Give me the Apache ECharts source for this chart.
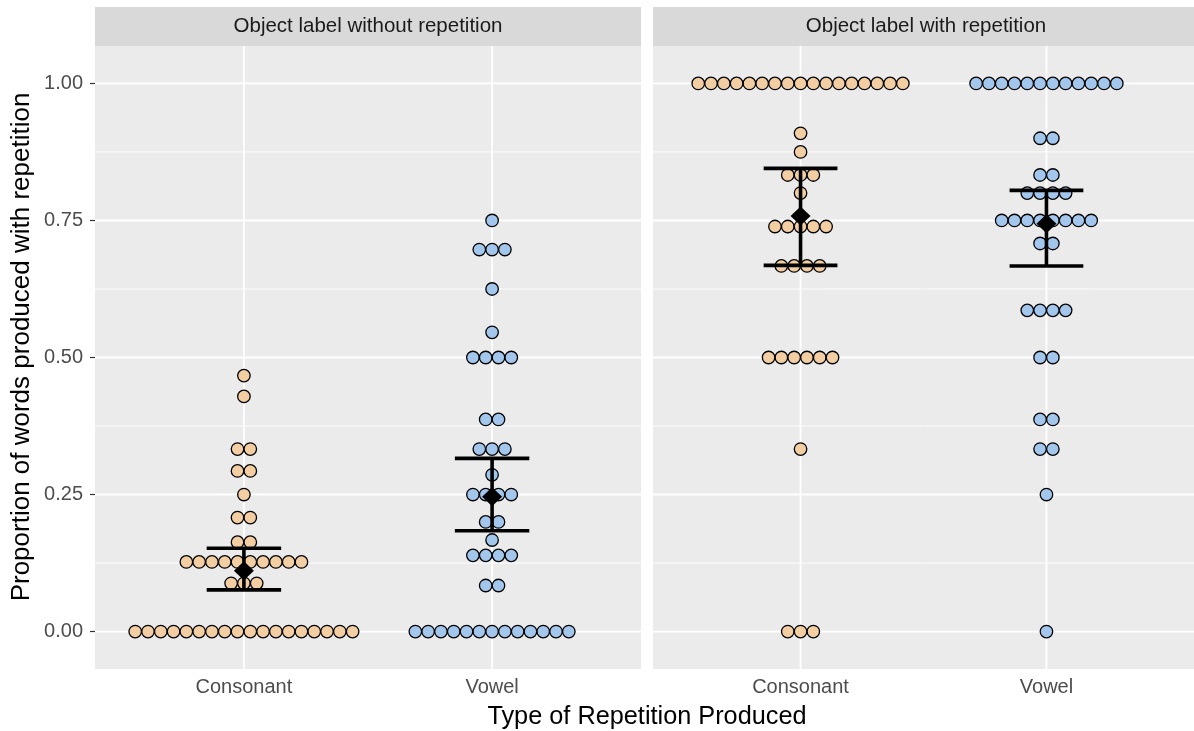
<!DOCTYPE html>
<html>
<head>
<meta charset="utf-8">
<title>Proportion of words produced with repetition</title>
<script src="https://cdn.jsdelivr.net/npm/echarts@6/dist/echarts.min.js"></script>
<style>
  html, body { margin: 0; padding: 0; background: #ffffff; }
  #main { width: 1194px; height: 731px; }
</style>
</head>
<body>
<div id="main"></div>
<script>
// Categories on the x axis and the facet headings
const categories = ['Consonant', 'Vowel'];
const panelTitles = ['Object label without repetition', 'Object label with repetition'];
const yTicks = [0, 0.25, 0.5, 0.75, 1];
const yMinorTicks = [0.125, 0.375, 0.625, 0.875];
const xTicks = [1, 2];

// Per-child proportions, object label without repetition
const noRepConsonant = [
  0, 0, 0, 0, 0, 0, 0, 0, 0, 0, 0, 0, 0, 0, 0, 0, 0, 0,
  0.088, 0.088, 0.088,
  0.127, 0.127, 0.127, 0.127, 0.127, 0.127, 0.127, 0.127, 0.127, 0.127,
  0.163, 0.163, 0.208, 0.208, 0.25, 0.293, 0.293, 0.333, 0.333, 0.429, 0.467
];
const noRepVowel = [
  0, 0, 0, 0, 0, 0, 0, 0, 0, 0, 0, 0, 0,
  0.084, 0.084, 0.139, 0.139, 0.139, 0.139, 0.167, 0.2, 0.2,
  0.25, 0.25, 0.25, 0.25, 0.286, 0.333, 0.333, 0.333, 0.387, 0.387,
  0.5, 0.5, 0.5, 0.5, 0.546, 0.625, 0.697, 0.697, 0.697, 0.75
];

// Per-child proportions, object label with repetition
const repConsonant = [
  0, 0, 0, 0.333, 0.5, 0.5, 0.5, 0.5, 0.5, 0.5,
  0.667, 0.667, 0.667, 0.667, 0.739, 0.739, 0.739, 0.739, 0.739,
  0.8, 0.833, 0.833, 0.833, 0.875, 0.909,
  1, 1, 1, 1, 1, 1, 1, 1, 1, 1, 1, 1, 1, 1, 1, 1, 1
];
const repVowel = [
  0, 0.25, 0.333, 0.333, 0.387, 0.387, 0.5, 0.5,
  0.586, 0.586, 0.586, 0.586, 0.708, 0.708,
  0.75, 0.75, 0.75, 0.75, 0.75, 0.75, 0.75, 0.75,
  0.8, 0.8, 0.8, 0.8, 0.833, 0.833, 0.9, 0.9,
  1, 1, 1, 1, 1, 1, 1, 1, 1, 1, 1, 1
];

// Group means with their confidence intervals (Consonant, Vowel)
const noRepMean = [0.111, 0.246];
const noRepLow = [0.076, 0.184];
const noRepHigh = [0.152, 0.316];
const repMean = [0.758, 0.744];
const repLow = [0.668, 0.667];
const repHigh = [0.845, 0.805];

const FONT = '"Liberation Sans", Arial, Helvetica, sans-serif';
const dotColors = ['#F2CEA2', '#A3C6ED'];
const DOT_DIAMETER = 0.7 / 30;   // dot size in y units (binwidth * dotsize)
const ERRBAR_WIDTH = 0.3;        // cap width in x units
const Y_MIN = -0.068333;
const Y_MAX = 1.068333;

const panels = [
  { title: panelTitles[0], groups: [noRepConsonant, noRepVowel], mean: noRepMean, lo: noRepLow, hi: noRepHigh },
  { title: panelTitles[1], groups: [repConsonant, repVowel], mean: repMean, lo: repLow, hi: repHigh }
];
const gridBoxes = [
  { left: 95, top: 46, width: 546, height: 623 },
  { left: 653, top: 46, width: 546, height: 623 }
];

// Stack equal values side by side, centred on the category
function dotItems(groups) {
  const items = [];
  groups.forEach((vals, gi) => {
    const counts = new Map();
    vals.forEach(v => counts.set(v, (counts.get(v) || 0) + 1));
    counts.forEach((n, v) => {
      for (let k = 0; k < n; k++) items.push([gi + 1, v, k, n, gi]);
    });
  });
  return items;
}

function gridLineSeries(i, values, dir, width) {
  return {
    type: 'custom', xAxisIndex: i, yAxisIndex: i, silent: true, z: 1,
    data: values.map(v => [v, v]),
    renderItem: (params, api) => {
      const cs = params.coordSys;
      const v = api.value(0);
      if (dir === 'h') {
        const y = api.coord([1, v])[1];
        return { type: 'line', shape: { x1: cs.x, y1: y, x2: cs.x + cs.width, y2: y },
                 style: { stroke: '#FFFFFF', lineWidth: width } };
      }
      const x = api.coord([v, 0.5])[0];
      return { type: 'line', shape: { x1: x, y1: cs.y, x2: x, y2: cs.y + cs.height },
               style: { stroke: '#FFFFFF', lineWidth: width } };
    }
  };
}

const grid = [], xAxis = [], yAxis = [], series = [], graphic = [];

panels.forEach((p, i) => {
  const g = gridBoxes[i];
  grid.push(Object.assign({ show: true, backgroundColor: '#EBEBEB', borderWidth: 0 }, g));

  xAxis.push({
    type: 'value', gridIndex: i, min: 0.4, max: 2.6,
    axisLine: { show: false },
    axisTick: { show: true, length: 5, customValues: xTicks, lineStyle: { color: '#333333', width: 1.2 } },
    axisLabel: { show: true, customValues: xTicks, formatter: v => categories[Math.round(v) - 1],
                 color: '#4D4D4D', fontSize: 20, fontFamily: FONT, margin: 8 },
    splitLine: { show: false }
  });

  yAxis.push({
    type: 'value', gridIndex: i, min: Y_MIN, max: Y_MAX,
    axisLine: { show: false },
    axisTick: { show: i === 0, length: 5, customValues: yTicks, lineStyle: { color: '#333333', width: 1.2 } },
    axisLabel: { show: i === 0, customValues: yTicks, formatter: v => v.toFixed(2),
                 color: '#4D4D4D', fontSize: 20, fontFamily: FONT, margin: 12 },
    splitLine: { show: false }
  });

  series.push(gridLineSeries(i, yMinorTicks, 'h', 0.9));
  series.push(gridLineSeries(i, yTicks, 'h', 1.8));
  series.push(gridLineSeries(i, xTicks, 'v', 1.8));

  // individual children as stacked dots
  series.push({
    type: 'custom', xAxisIndex: i, yAxisIndex: i, z: 2,
    data: dotItems(p.groups),
    renderItem: (params, api) => {
      const c = api.coord([api.value(0), api.value(1)]);
      const d = api.size([0, DOT_DIAMETER])[1];
      const cx = c[0] + (api.value(2) - (api.value(3) - 1) / 2) * d;
      return { type: 'circle', shape: { cx: cx, cy: c[1], r: d / 2 - 0.15 },
               style: { fill: dotColors[api.value(4)], stroke: '#000000', lineWidth: 1.3 } };
    }
  });

  // confidence intervals
  series.push({
    type: 'custom', xAxisIndex: i, yAxisIndex: i, z: 3,
    data: p.mean.map((m, k) => [k + 1, m, p.lo[k], p.hi[k]]),
    renderItem: (params, api) => {
      const x = api.value(0);
      const lo = api.coord([x, api.value(2)]);
      const hi = api.coord([x, api.value(3)]);
      const half = api.size([ERRBAR_WIDTH / 2, 0])[0];
      const st = { stroke: '#000000', lineWidth: 3.6 };
      return { type: 'group', children: [
        { type: 'line', shape: { x1: lo[0], y1: lo[1], x2: hi[0], y2: hi[1] }, style: st },
        { type: 'line', shape: { x1: lo[0] - half, y1: lo[1], x2: lo[0] + half, y2: lo[1] }, style: st },
        { type: 'line', shape: { x1: hi[0] - half, y1: hi[1], x2: hi[0] + half, y2: hi[1] }, style: st }
      ] };
    }
  });

  // group means
  series.push({
    type: 'scatter', xAxisIndex: i, yAxisIndex: i, z: 4,
    symbol: 'diamond', symbolSize: [20, 19],
    itemStyle: { color: '#000000', opacity: 1 },
    emphasis: { disabled: true },
    data: p.mean.map((m, k) => [k + 1, m])
  });

  // facet strip
  graphic.push({
    type: 'group', left: g.left, top: 7,
    children: [
      { type: 'rect', shape: { x: 0, y: 0, width: g.width, height: 39 }, style: { fill: '#D9D9D9' } },
      { type: 'text', x: g.width / 2, y: 19.5,
        style: { text: p.title, fill: '#1A1A1A', fontSize: 20.5, fontFamily: FONT,
                 align: 'center', verticalAlign: 'middle' } }
    ]
  });
});

// axis titles
graphic.push({
  type: 'text', x: 647, y: 717,
  style: { text: 'Type of Repetition Produced', fill: '#000000', fontSize: 25.3, fontFamily: FONT,
           align: 'center', verticalAlign: 'middle' }
});
graphic.push({
  type: 'text', x: 22, y: 347, rotation: Math.PI / 2,
  style: { text: 'Proportion of words produced with repetition', fill: '#000000', fontSize: 26,
           fontFamily: FONT, align: 'center', verticalAlign: 'middle' }
});

const chart = echarts.init(document.getElementById('main'), null, { renderer: 'canvas' });
chart.setOption({
  animation: false,
  backgroundColor: '#FFFFFF',
  grid: grid,
  xAxis: xAxis,
  yAxis: yAxis,
  series: series,
  graphic: graphic
});
</script>
</body>
</html>
